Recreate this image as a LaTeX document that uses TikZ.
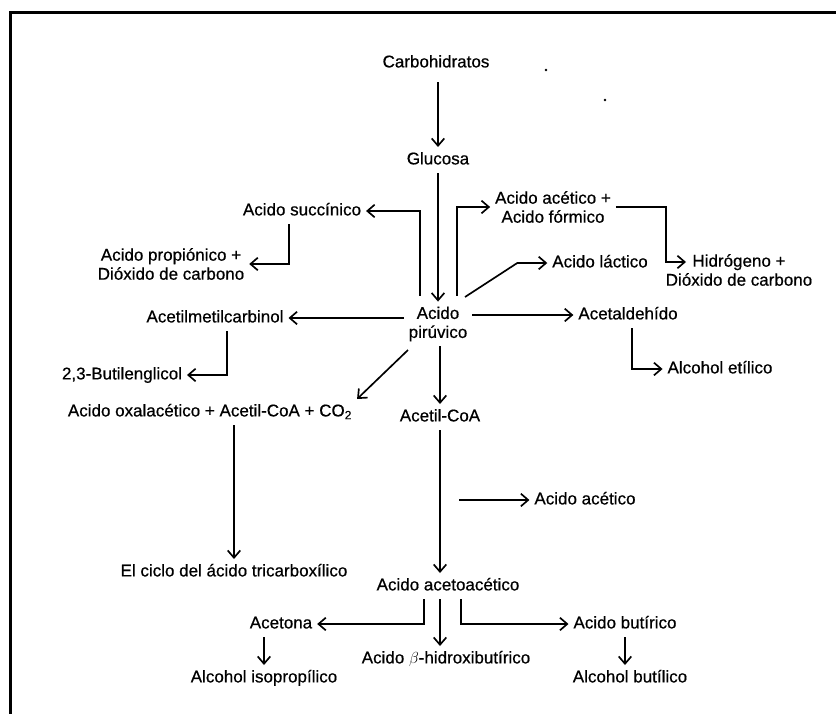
\documentclass[tikz,border=0pt]{standalone}
\usepackage{fontspec}
\setmainfont{Liberation Sans}[FakeBold=0.6]
\usetikzlibrary{arrows.meta,calc}
\begin{document}
\begin{tikzpicture}[x=0.75pt,y=-0.75pt,
  lbl/.style={inner sep=0pt,outer sep=3.75pt,font=\fontsize{12.75pt}{14.25pt}\selectfont,text height=9.3pt,text depth=2.7pt},
  lbltwo/.style={inner sep=0pt,outer sep=3.75pt,font=\fontsize{12.75pt}{14.25pt}\selectfont,align=center},
  conn/.style={line width=1.25pt},
  arr/.style={conn,-{Straight Barb[length=5.5pt,width=9.5pt]}},
  framest/.style={line width=1.6pt},
  speck/.style={fill=black}]
\useasboundingbox (0,0) rectangle (836,714);
\draw[framest] (10.5,714) -- (10.5,12.5) -- (836,12.5);
\fill[speck] (546,70) circle (1.3);
\fill[speck] (605,100) circle (1.3);

\node[lbl] (carb) at (436,63) {Carbohidratos};
\node[lbl] (glu) at (438,160) {Glucosa};
\node[lbl] (suc) at (302,211) {Acido succínico};
\node[lbltwo] (acfor) at (553,207) {Acido acético +\\Acido fórmico};
\node[lbltwo] (prop) at (171,264) {Acido propiónico +\\Dióxido de carbono};
\node[lbl] (lac) at (600,263) {Acido láctico};
\node[lbltwo] (hid) at (739,270) {Hidrógeno +\\Dióxido de carbono};
\node[lbl] (amc) at (215,318) {Acetilmetilcarbinol};
\node[lbltwo] (pir) at (438,324) {Acido\\pirúvico};
\node[lbl] (ald) at (628,315) {Acetaldehído};
\node[lbl] (btg) at (122,375) {2,3-Butilenglicol};
\node[lbl] (etil) at (720,369) {Alcohol etílico};
\node[lbl] (oxa) at (210,412) {Acido oxalacético + Acetil-CoA + CO\textsubscript{2}};
\node[lbl] (acoa) at (440,417) {Acetil-CoA};
\node[lbl] (acac) at (585,500) {Acido acético};
\node[lbl] (tca) at (234,572) {El ciclo del ácido tricarboxílico};
\node[lbl] (aa) at (448,586) {Acido acetoacético};
\node[lbl] (acet) at (281,624) {Acetona};
\node[lbl] (buti) at (625,624) {Acido butírico};
\node[lbl] (hb) at (446,659) {Acido $\beta$-hidroxibutírico};
\node[lbl] (iso) at (264,678) {Alcohol isopropílico};
\node[lbl] (bol) at (630,678) {Alcohol butílico};

\coordinate (hidin) at ($(hid.center)+(-53,-8)$);
\coordinate (acin) at ($(acac.west)+(-70,0)$);

\draw[arr,shorten <=4.5pt] (carb.south -| glu.north) -- (glu.north);
\draw[arr] (glu) -- (pir);
\draw[arr] ($(pir.north)+(-18,-6)$) |- (suc);
\draw[arr] ($(pir.north)+(19,-6)$) |- (acfor);
\draw[arr] (acfor.east) -| ($(hidin)+(-20,0)$) -- (hidin);
\draw[arr] ($(pir.center)+(27,-27)$) -- ($(lac.west)+(-30,0)$) -- (lac.west);
\draw[arr] (pir.east |- ald) -- (ald);
\draw[arr] (pir.west |- amc) -- (amc);
\draw[arr] ($(pir.center)+(-30,26)$) -- (oxa.north east);
\draw[arr] (pir.south -| acoa.north) -- (acoa.north);
\draw[arr] ($(suc.south)+(-13,0)$) |- (prop);
\draw[arr] ($(amc.south)+(12,0)$) |- (btg);
\draw[arr] ($(ald.south)+(4,0)$) |- (etil);
\draw[arr] (oxa.south -| tca.north) -- (tca.north);
\draw[arr] (acoa.south) -- (acoa.south |- aa.north);
\draw[arr] (acin) -- (acac);
\draw[arr] ($(aa.south)+(-24,0)$) |- (acet);
\draw[arr] (aa.south -| acoa.south) -- (hb.north -| acoa.south);
\draw[arr] ($(aa.south)+(13,0)$) |- (buti);
\draw[arr] (acet.south -| iso.north) -- (iso.north);
\draw[arr] (buti.south) -- (buti.south |- bol.north);
\end{tikzpicture}
\end{document}
